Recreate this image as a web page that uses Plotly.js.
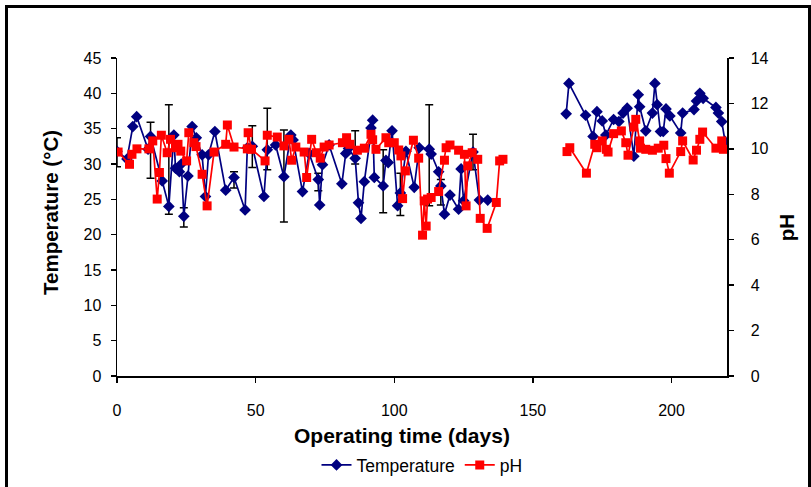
<!DOCTYPE html>
<html>
<head>
<meta charset="utf-8">
<script src="https://cdn.plot.ly/plotly-3.0.1.min.js"></script>
<style>
  html, body { margin: 0; padding: 0; background: #fff; }
  #wrap { position: relative; width: 811px; height: 487px; overflow: hidden; }
  #chart { position: absolute; left: 0; top: 0; width: 811px; height: 487px; }
  #frame { position: absolute; left: 5px; top: 5px; width: 800px; height: 500px;
           border-left: 3px solid #000; border-top: 3px solid #000; border-right: 3px solid #000;
           pointer-events: none; }
</style>
</head>
<body>
<div id="wrap">
  <div id="chart"></div>
  <div id="frame"></div>
</div>
<script>
// Temperature (°C) series, operating time in days
const tempDays = [0, 3.6, 5.7, 7.1, 11.2, 12.1, 16.3, 18.7, 20.5, 21.1, 22.5, 23.2, 24.1, 25.6, 27.1, 28.6,
  30.7, 31.9, 33.0, 35.3, 39.2, 42.2, 46.2, 47.0, 48.8, 53.0, 54.2, 57.2, 60.2, 62.7, 63.5, 66.9,
  69.3, 72.6, 73.1, 74.1, 76.5, 81.1, 82.5, 83.5, 85.9, 87.1, 88.0, 89.2, 91.6, 92.2, 92.8, 96.0,
  97.0, 97.8, 99.2, 101.2, 102.2, 104.2, 107.2, 109.0, 112.6, 113.3, 116.0, 116.8, 118.1, 120.1,
  123.2, 124.1, 125.0, 128.4, 130.7, 133.7, 150,
  162.0, 163.0, 169.0, 171.7, 173.1, 175.0, 176.3, 179.1, 181.0, 182.5, 184.0, 186.4, 188.0, 188.5,
  190.7, 193.1, 194.0, 194.8, 196.0, 197.0, 198.0, 199.4, 203.3, 204.0, 208.1, 209.0, 210.2, 211.4,
  216.0, 216.9, 218.1, 219.3];
const tempValues = [31.8, 30.7, 35.3, 36.7, 32.1, 33.9, 27.6, 24.0, 34.1, 29.4, 28.9, 30.0, 22.6, 28.3, 35.3, 33.7,
  31.3, 25.4, 31.3, 34.6, 26.3, 28.1, 23.5, 32.3, 32.5, 25.4, 32.0, 32.7, 28.2, 34.1, 33.4, 26.1,
  31.5, 27.8, 24.2, 29.9, 32.7, 27.2, 31.5, 32.2, 30.8, 24.5, 22.3, 27.5, 35.1, 36.2, 28.1, 26.9,
  30.5, 30.2, 34.7, 24.1, 25.9, 31.8, 26.7, 32.3, 32.1, 31.4, 28.9, 26.9, 22.9, 25.6,
  23.6, 29.3, 24.8, 31.7, 24.9, 24.9, null,
  37.1, 41.4, 36.9, 33.9, 37.4, 36.1, 34.1, 36.3, 36.0, 37.2, 37.9, 31.1, 39.8, 38.1,
  34.7, 37.2, 41.4, 38.4, 34.6, 34.6, 37.8, 36.8, 34.4, 37.2, 37.7, 38.9, 40.0, 39.3,
  38.0, 37.2, 36.0, 33.2];
// Error bars (upper / lower extent), null where no bar is drawn
const tempErrPlus = [1.9, null, null, null, null, 2.0, null, 14.4, null, null, null, null, 1.2, null, null, null,
  null, null, null, null, null, 0.8, null, null, 2.9, null, 5.9, null, 6.6, null, null, null,
  null, 0.9, null, null, null, null, null, null, 3.9, null, null, null, null, null, null, 5.1,
  null, null, null, null, 2.8, null, null, null, 6.3, null, null, 0.9, null, null,
  null, null, null, 2.5, null, null, null,
  null, null, null, null, null, null, null, null, null, null, null, null, null, null,
  null, null, null, null, null, null, null, null, null, null, null, null, null, null,
  null, null, null, null];
const tempErrMinus = [2.2, null, null, null, null, 5.9, null, 1.1, null, null, null, null, 1.5, null, null, null,
  null, null, null, null, null, 1.5, null, null, 3.0, null, 2.8, null, 6.4, null, null, null,
  null, 1.6, null, null, null, null, null, null, 0.8, null, null, null, null, null, null, 3.8,
  null, null, null, null, 3.2, null, null, null, 8.0, null, null, 2.7, null, null,
  null, null, null, 2.5, null, null, null,
  null, null, null, null, null, null, null, null, null, null, null, null, null, null,
  null, null, null, null, null, null, null, null, null, null, null, null, null, null,
  null, null, null, null];

// pH series
const phDays = [0.4, 4.5, 5.4, 7.2, 11.5, 12.9, 14.5, 15.3, 16.0, 18.1, 19.3, 21.1, 22.0, 23.0, 25.1, 25.9,
  27.7, 28.5, 30.7, 32.5, 35.0, 39.2, 39.8, 42.2, 47.0, 47.3, 48.5, 53.4, 54.2, 57.8, 60.2, 62.0,
  63.0, 64.5, 67.5, 68.4, 70.2, 71.9, 73.3, 74.7, 76.5, 81.3, 82.8, 84.0, 86.7, 89.2, 91.6, 92.2,
  93.4, 97.0, 98.0, 100.0, 101.6, 102.4, 103.0, 104.0, 106.9, 108.8, 110.2, 110.8, 111.5, 112.0,
  113.3, 116.0, 118.1, 118.7, 120.1, 123.2, 125.3, 125.9, 126.5, 128.1, 130.1, 131.0, 133.5, 136.8,
  138.0, 139.2, 150,
  162.3, 163.3, 169.3, 172.3, 173.1, 175.0, 176.5, 177.1, 179.1, 181.9, 183.5, 184.3, 186.4, 187.1,
  188.5, 188.8, 190.7, 193.1, 195.2, 197.2, 198.0, 199.2, 203.3, 204.0, 207.8, 209.0, 210.2, 211.2,
  216.0, 218.1, 218.7];
const phValues = [9.86, 9.32, 9.76, 10.0, 10.0, 10.35, 7.79, 8.96, 10.6, 9.83, 10.42, 10.05, 10.2, 9.9, 9.47, 10.71,
  10.27, 10.1, 8.88, 7.49, 9.86, 10.2, 11.05, 10.08, 10.0, 10.71, 9.98, 9.47, 10.6, 10.52, 10.13, 10.42,
  9.5, 10.08, 9.86, 8.74, 10.42, 9.83, 9.59, 10.08, 10.17, 10.27, 10.49, 10.2, 9.94, 10.03, 10.64, 10.4,
  9.98, 10.49, 10.27, 10.27, 9.95, 9.69, 7.81, 9.03, 10.38, 9.59, 6.2, 7.71, 6.6, 7.79,
  7.86, 8.12, 9.5, 10.05, 10.17, 9.94, 9.76, 7.49, 9.25, 9.83, 9.54, 6.94, 6.5, 7.64,
  9.47, 9.54, null,
  9.88, 10.05, 8.93, 10.2, 10.05, 10.35, 9.98, 9.86, 10.67, 10.79, 10.27, 9.72, 10.96, 11.3,
  10.35, 10.03, 9.98, 9.94, 10.03, 10.16, 9.57, 8.93, 9.88, 10.35, 9.51, 9.94, 10.42, 10.74,
  10.03, 10.35, 9.98];

const xTicks = [0, 50, 100, 150, 200];
const tempTicks = [0, 5, 10, 15, 20, 25, 30, 35, 40, 45];
const phTicks = [0, 2, 4, 6, 8, 10, 12, 14];

const FONT = 'Liberation Sans, Arial, sans-serif';

const traces = [
  {
    x: tempDays, y: tempValues, name: 'Temperature', type: 'scatter', mode: 'lines+markers',
    connectgaps: false,
    line: { color: '#000080', width: 1.7 },
    marker: { symbol: 'diamond', size: 9, color: '#000080' },
    error_y: { type: 'data', symmetric: false, array: tempErrPlus, arrayminus: tempErrMinus,
               color: '#000000', thickness: 1.5, width: 4 }
  },
  {
    x: phDays, y: phValues, name: 'pH', type: 'scatter', mode: 'lines+markers', yaxis: 'y2',
    connectgaps: false,
    line: { color: '#FF0000', width: 1.7 },
    marker: { symbol: 'square', size: 9, color: '#FF0000' }
  }
];

const axisCommon = {
  showline: true, linecolor: '#000', linewidth: 1.5,
  ticks: 'outside', ticklen: 5, tickwidth: 1.5, tickcolor: '#000',
  showgrid: false, zeroline: false, automargin: false,
  tickfont: { family: FONT, size: 16, color: '#000' }
};

const layout = {
  width: 811, height: 487,
  margin: { l: 117, r: 84, t: 58, b: 111, pad: 0, autoexpand: false },
  paper_bgcolor: '#ffffff', plot_bgcolor: '#ffffff',
  font: { family: FONT, color: '#000000', size: 16 },
  showlegend: true,
  legend: { orientation: 'h', x: 0.5, xanchor: 'center', y: -0.28, yanchor: 'middle',
            font: { family: FONT, size: 17.5, color: '#000' }, bgcolor: 'rgba(0,0,0,0)' },
  xaxis: Object.assign({}, axisCommon, {
    range: [0, 220], tickvals: xTicks, ticktext: xTicks.map(String), ticklabelstandoff: 14
  }),
  yaxis: Object.assign({}, axisCommon, {
    range: [0, 45], tickvals: tempTicks, ticktext: tempTicks.map(String), ticklabelstandoff: 6
  }),
  yaxis2: Object.assign({}, axisCommon, {
    range: [0, 14], tickvals: phTicks, ticktext: phTicks.map(String), ticklabelstandoff: 14,
    overlaying: 'y', side: 'right', anchor: 'x'
  }),
  annotations: [
    { text: '<b>Operating time (days)</b>', xref: 'paper', yref: 'paper', x: 0.467, y: -0.186,
      xanchor: 'center', yanchor: 'middle', showarrow: false, font: { family: FONT, size: 21, color: '#000' } },
    { text: '<b>Temperature (°C)</b>', xref: 'paper', yref: 'paper', x: -0.108, y: 0.513,
      xanchor: 'center', yanchor: 'middle', textangle: -90, showarrow: false,
      font: { family: FONT, size: 20.5, color: '#000' } },
    { text: '<b>pH</b>', xref: 'paper', yref: 'paper', x: 1.097, y: 0.465,
      xanchor: 'center', yanchor: 'middle', textangle: -90, showarrow: false,
      font: { family: FONT, size: 20.5, color: '#000' } }
  ]
};

Plotly.newPlot('chart', traces, layout, { displayModeBar: false, staticPlot: true });
</script>
</body>
</html>
